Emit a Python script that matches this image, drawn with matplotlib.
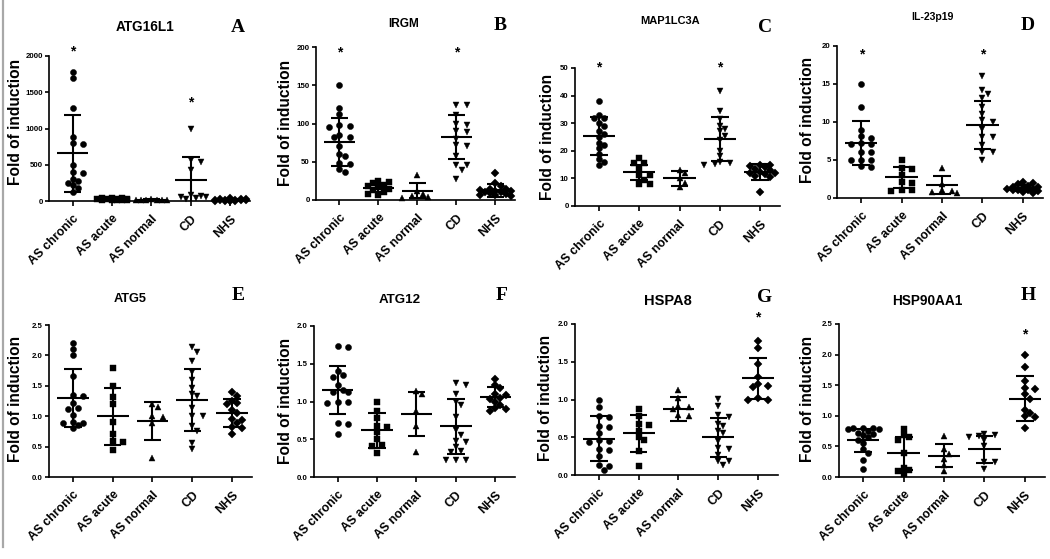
import numpy as np
import matplotlib
matplotlib.use("Agg")
import matplotlib.pyplot as plt
from matplotlib.lines import Line2D

plt.rcParams['font.family'] = ['Liberation Sans', 'DejaVu Sans']

# ---------------- data ----------------
categories = ["AS chronic", "AS acute", "AS normal", "CD", "NHS"]

atg16l1 = [
    [1780, 1700, 1280, 880, 800, 780, 500, 400, 380, 300, 270, 250, 220, 180, 130],
    [45, 40, 35, 30, 28, 25, 22, 20, 15, 12, 10, 8],
    [25, 20, 18, 15, 12, 10, 8],
    [1000, 560, 540, 430, 80, 70, 60, 50, 40, 30],
    [40, 30, 25, 22, 20, 18, 15, 12, 10, 10, 8, 6, 5, 4, 3],
]
atg16l1_mean = [656, 24, 15, 289, 15]
atg16l1_sd = [537, 12, 6, 322, 10]

irgm = [
    [150, 120, 112, 98, 97, 96, 85, 83, 82, 70, 60, 57, 48, 47, 40, 36],
    [25, 24, 22, 20, 18, 17, 15, 13, 10, 8, 6],
    [33, 12, 8, 5, 4, 3],
    [124, 124, 111, 100, 98, 90, 89, 80, 72, 70, 57, 46, 46, 39, 28],
    [35, 22, 18, 15, 14, 13, 12, 12, 11, 10, 9, 8, 7, 6, 5],
]
irgm_mean = [76, 16, 12, 82, 13]
irgm_sd = [31, 5, 10, 29, 8.5]

map1lc3a = [
    [38, 33, 32, 32, 30, 29, 27, 26, 25, 23, 22, 21, 19, 17, 16, 15],
    [17.5, 15.5, 15.7, 13.7, 11.3, 11.3, 9.4, 7.9, 7.9],
    [13, 12, 10, 8.5, 6.8],
    [41.5, 34.5, 31.5, 29, 28, 27, 25.5, 24, 20, 18, 16, 15.5, 15.3, 15],
    [15, 15, 14.5, 14, 13.5, 13, 12.5, 12, 12, 11.5, 11, 10.5, 5],
]
map1lc3a_mean = [25.4, 12.3, 10.0, 24.2, 12.3]
map1lc3a_sd = [7.0, 2.7, 2.6, 7.9, 2.9]

il23p19 = [
    [15, 12, 9, 8.1, 7.9, 7.1, 7.2, 7.1, 6.1, 6.1, 5.05, 5, 5, 4.1, 4.2],
    [5, 4, 3.8, 3.0, 2.1, 2.0, 1.1, 1.0, 0.9],
    [4.0, 1.8, 1.0, 0.9, 0.8, 0.7],
    [16, 14.2, 13.7, 13.1, 12, 11.1, 10.2, 10, 9.1, 8, 8, 7, 6.1, 6.1, 5.05],
    [2.1, 2.0, 1.8, 1.6, 1.5, 1.4, 1.3, 1.2, 1.2, 1.1, 1.0, 1.0, 0.9, 0.8, 0.7],
]
il23p19_mean = [7.25, 2.7, 1.7, 9.6, 1.3]
il23p19_sd = [2.9, 1.4, 1.2, 3.2, 0.4]

atg5 = [
    [2.2, 2.1, 2.0, 1.66, 1.35, 1.33, 1.22, 1.14, 1.12, 1.02, 0.9, 0.89, 0.88, 0.85, 0.8],
    [1.8, 1.5, 1.32, 1.2, 0.9, 0.7, 0.6, 0.58, 0.44],
    [1.2, 1.15, 1.0, 0.98, 0.88, 0.32],
    [2.13, 2.06, 1.91, 1.73, 1.6, 1.47, 1.36, 1.33, 1.14, 1.0, 1.0, 0.84, 0.76, 0.56, 0.46],
    [1.4, 1.33, 1.25, 1.22, 1.2, 1.1, 1.06, 0.95, 0.93, 0.88, 0.82, 0.8, 0.7],
]
atg5_mean = [1.30, 1.00, 0.92, 1.27, 1.06]
atg5_sd = [0.47, 0.47, 0.31, 0.51, 0.23]

atg12 = [
    [1.73, 1.72, 1.4, 1.35, 1.33, 1.22, 1.15, 1.13, 1.12, 1.0, 1.0, 0.98, 0.72, 0.7, 0.57],
    [1.0, 0.88, 0.78, 0.68, 0.66, 0.6, 0.5, 0.43, 0.41, 0.32],
    [1.14, 1.1, 0.88, 0.68, 0.33],
    [1.24, 1.22, 1.1, 1.0, 0.95, 0.8, 0.62, 0.55, 0.48, 0.46, 0.4, 0.35, 0.33, 0.23, 0.22, 0.22],
    [1.3, 1.22, 1.18, 1.1, 1.08, 1.05, 1.03, 1.0, 0.95, 0.92, 0.9, 0.88],
]
atg12_mean = [1.15, 0.62, 0.83, 0.67, 1.06]
atg12_sd = [0.32, 0.23, 0.29, 0.36, 0.13]

hspa8 = [
    [1.0, 0.9, 0.78, 0.77, 0.65, 0.64, 0.56, 0.46, 0.45, 0.44, 0.35, 0.33, 0.25, 0.13, 0.12, 0.07],
    [0.88, 0.78, 0.67, 0.66, 0.58, 0.5, 0.46, 0.32, 0.12],
    [1.12, 1.02, 0.92, 0.9, 0.88, 0.8, 0.78],
    [1.01, 0.92, 0.79, 0.77, 0.68, 0.65, 0.58, 0.55, 0.45, 0.36, 0.34, 0.27, 0.19, 0.19, 0.13],
    [1.78, 1.68, 1.47, 1.3, 1.2, 1.18, 1.17, 1.02, 1.0, 1.0],
]
hspa8_mean = [0.48, 0.55, 0.87, 0.50, 1.28]
hspa8_sd = [0.30, 0.24, 0.16, 0.26, 0.27]

hsp90aa1 = [
    [0.8, 0.8, 0.8, 0.79, 0.78, 0.75, 0.72, 0.7, 0.68, 0.65, 0.6, 0.55, 0.45, 0.4, 0.27, 0.13],
    [0.78, 0.68, 0.65, 0.6, 0.4, 0.15, 0.12, 0.1, 0.05],
    [0.67, 0.45, 0.38, 0.3, 0.2, 0.1],
    [0.7, 0.68, 0.67, 0.66, 0.6, 0.5, 0.25, 0.25, 0.13],
    [2.0, 1.8, 1.57, 1.45, 1.43, 1.35, 1.28, 1.1, 1.05, 1.0, 0.98, 0.8],
]
hsp90aa1_mean = [0.60, 0.39, 0.35, 0.45, 1.28]
hsp90aa1_sd = [0.19, 0.27, 0.19, 0.22, 0.37]

titles = ["ATG16L1", "IRGM", "MAP1LC3A", "IL-23p19", "ATG5", "ATG12", "HSPA8", "HSP90AA1"]
letters = ["A", "B", "C", "D", "E", "F", "G", "H"]
yticks = [
    [0, 500, 1000, 1500, 2000],
    [0, 50, 100, 150, 200],
    [0, 10, 20, 30, 40, 50],
    [0, 5, 10, 15, 20],
    [0.0, 0.5, 1.0, 1.5, 2.0, 2.5],
    [0.0, 0.5, 1.0, 1.5, 2.0],
    [0.0, 0.5, 1.0, 1.5, 2.0],
    [0.0, 0.5, 1.0, 1.5, 2.0, 2.5],
]
ytick_fmt = ["{:.0f}"] * 4 + ["{:.1f}"] * 4
# significance stars: (category index, y value)
stars = [
    [(0, 2124), (3, 1413)],
    [(0, 198), (3, 198)],
    [(0, 51.8), (3, 51.8)],
    [(0, 19.4), (3, 19.4)],
    [],
    [],
    [(4, 2.14)],
    [(4, 2.39)],
]

all_data = [atg16l1, irgm, map1lc3a, il23p19, atg5, atg12, hspa8, hsp90aa1]
all_mean = [atg16l1_mean, irgm_mean, map1lc3a_mean, il23p19_mean,
            atg5_mean, atg12_mean, hspa8_mean, hsp90aa1_mean]
all_sd = [atg16l1_sd, irgm_sd, map1lc3a_sd, il23p19_sd,
          atg5_sd, atg12_sd, hspa8_sd, hsp90aa1_sd]

# ---------------- layout (pixels) ----------------
W, H = 1050, 559
# left, right, top (y max), bottom (y = 0)
boxes = [
    (49, 250, 56, 201), (316, 515, 47, 200), (575, 780, 68, 206), (837, 1043, 46, 198),
    (49, 252, 325, 477), (314, 515, 326, 477), (575, 778, 324, 475), (839, 1045, 324, 477),
]
title_pos = [(145, 27), (404, 24), (670, 21), (932, 17),
             (130, 299), (400, 300), (668, 301), (927, 301)]
title_size = [9.8, 8.6, 8.0, 7.6, 9.2, 9.6, 10.5, 9.8]
letter_pos = [(238, 27), (500, 25), (765, 27), (1028, 25),
              (238, 296), (502, 296), (765, 297), (1028, 296)]
ylabel_pos = [(16, 122), (286, 123), (547, 137), (808, 120),
              (16, 399), (285, 401), (546, 398), (808, 399)]

markers = ['o', 's', '^', 'v', 'D']
msizes = [4.4, 4.0, 4.6, 4.6, 3.8]
XLIM = (-0.6, 4.5)


def swarm(vals, ypx, xpx, d=5.4, maxoff=0.42):
    vals = np.asarray(vals, float)
    order = np.argsort(-vals)
    offs = np.zeros(len(vals))
    placed = []
    step = d * 0.95
    n = int(maxoff * xpx / step)
    cands = sorted([k * step for k in range(-n, n + 1)], key=lambda c: (abs(c), -c))
    for idx in order:
        y = vals[idx] * ypx
        best, bestd = 0.0, -1
        for c in cands:
            md = min([np.hypot(c - px, y - py) for px, py in placed], default=1e9)
            if md >= d:
                best = c
                break
            if md > bestd:
                bestd, best = md, c
        placed.append((best, y))
        offs[idx] = best / xpx
    return offs


fig = plt.figure(figsize=(W / 100, H / 100), dpi=100)
fig.patch.set_facecolor('white')
fig.add_artist(Line2D([2.5 / W, 2.5 / W], [1.0, 1 - 547 / H], color='#a8a8a8', lw=1.6,
                      transform=fig.transFigure))

for p in range(8):
    l, r, t, b = boxes[p]
    ax = fig.add_axes([l / W, 1 - b / H, (r - l) / W, (b - t) / H])
    ymax = yticks[p][-1]
    ax.set_xlim(*XLIM)
    ax.set_ylim(0, ymax)
    xpx = (r - l) / (XLIM[1] - XLIM[0])
    ypx = (b - t) / ymax
    for i, vals in enumerate(all_data[p]):
        offs = swarm(vals, ypx, xpx)
        ax.plot(i + offs, vals, ls='none', marker=markers[i], ms=msizes[i],
                mfc='black', mec='black', mew=0.3, clip_on=False, zorder=3)
        m, s = all_mean[p][i], all_sd[p][i]
        ax.hlines(m, i - 0.4, i + 0.4, color='black', lw=1.5, zorder=4)
        ax.vlines(i, m - s, m + s, color='black', lw=1.5, zorder=4)
        ax.hlines([m - s, m + s], i - 0.22, i + 0.22, color='black', lw=1.5, zorder=4)
    for ci, yv in stars[p]:
        ax.annotate('*', (ci, yv), xytext=(0, -3), textcoords='offset points',
                    ha='center', va='center', fontsize=10, fontweight='bold',
                    annotation_clip=False)
    for s in ['top', 'right']:
        ax.spines[s].set_visible(False)
    for s in ['left', 'bottom']:
        ax.spines[s].set_linewidth(1.2)
    ax.set_xticks(range(len(categories)))
    ax.set_xticklabels(categories, rotation=45, ha='right', rotation_mode='anchor',
                       fontsize=8.8, fontweight='bold')
    ax.set_yticks(yticks[p])
    ax.set_yticklabels([ytick_fmt[p].format(v) for v in yticks[p]],
                       fontsize=5.7, fontweight='bold')
    ax.tick_params(axis='both', direction='out', length=3.0, width=1.2, pad=1.5)
    ax.tick_params(axis='x', pad=5, length=3.5)
    ax.patch.set_alpha(0)

    tx, ty = title_pos[p]
    fig.text(tx / W, 1 - ty / H, titles[p], ha='center', va='center',
             fontsize=title_size[p], fontweight='bold')
    lx, ly = letter_pos[p]
    fig.text(lx / W, 1 - ly / H, letters[p], ha='center', va='center',
             fontsize=14, fontweight='bold', family=['Liberation Serif', 'DejaVu Serif'])
    yx, yy = ylabel_pos[p]
    fig.text(yx / W, 1 - yy / H, "Fold of induction", rotation=90, ha='center',
             va='center', fontsize=11.2, fontweight='bold')

fig.savefig("out.png", dpi=100, facecolor='white')
